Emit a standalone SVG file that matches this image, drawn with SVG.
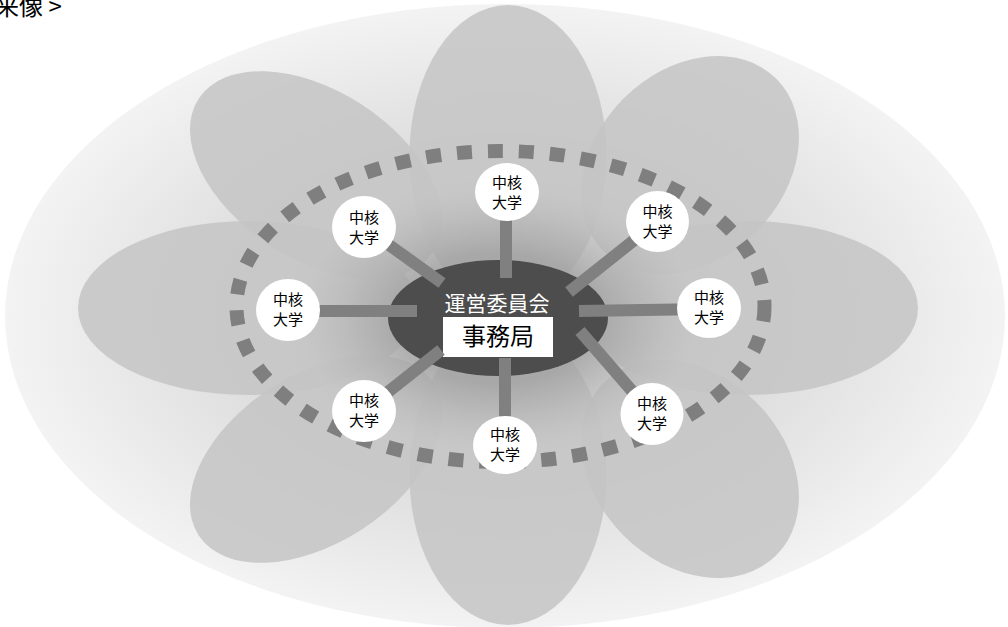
<svg xmlns="http://www.w3.org/2000/svg" width="1008" height="627" viewBox="0 0 1008 627">
<defs>
<radialGradient id="bg" cx="0.5" cy="0.5" r="0.5">
<stop offset="0" stop-color="#c4c4c4"/>
<stop offset="1" stop-color="#f3f3f3"/>
</radialGradient>
<radialGradient id="glow" cx="0.5" cy="0.5" r="0.5">
<stop offset="0.5" stop-color="#5a5a5a" stop-opacity="0.28"/>
<stop offset="1" stop-color="#888" stop-opacity="0"/>
</radialGradient>
<style>
.petal{fill:#c4c4c4;fill-opacity:0.85}
.bar{stroke:#808080;stroke-width:12;fill:none}
.node ellipse{fill:#fff}
.node text{font-family:"Noto Sans CJK JP","Noto Sans CJK SC",sans-serif;font-size:15px;fill:#000;text-anchor:middle}
.ring{fill:none;stroke:#7f7f7f;stroke-width:14;stroke-dasharray:15 16}
</style>
</defs>
<rect width="1008" height="627" fill="#fff"/>
<text x="-5" y="15" font-family="Noto Sans CJK JP, sans-serif" font-size="24" fill="#000">来像 &gt;</text>
<g id="background">
<ellipse cx="505" cy="316" rx="500" ry="312" fill="url(#bg)"/>
<ellipse class="petal" cx="508" cy="155" rx="98.5" ry="150"/>
<ellipse class="petal" cx="508" cy="475" rx="98.5" ry="150"/>
<ellipse class="petal" cx="248" cy="308" rx="170" ry="87"/>
<ellipse class="petal" cx="748" cy="308" rx="170" ry="87"/>
<ellipse class="petal" cx="0" cy="0" rx="140" ry="84" transform="translate(316 175) rotate(33)"/>
<ellipse class="petal" cx="0" cy="0" rx="140" ry="84" transform="translate(316 459) rotate(-33)"/>
<ellipse class="petal" cx="0" cy="0" rx="122" ry="94" transform="translate(690 165) rotate(-45)"/>
<ellipse class="petal" cx="0" cy="0" rx="122" ry="94" transform="translate(690 469) rotate(45)"/>
<ellipse cx="498" cy="318" rx="200" ry="130" fill="url(#glow)"/>
</g>
<g id="ring">
<ellipse class="ring" cx="500.5" cy="306.5" rx="264" ry="155.5"/>
</g>
<g id="hub">
<ellipse cx="498" cy="318" rx="110" ry="58" fill="#4d4d4d"/>
<text x="497" y="311" font-family="Noto Sans CJK JP, sans-serif" font-size="21" fill="#fff" text-anchor="middle">運営委員会</text>
<rect x="443" y="317" width="110" height="40" fill="#fff"/>
<text x="498" y="345" font-family="Noto Sans CJK JP, sans-serif" font-size="24" fill="#000" text-anchor="middle">事務局</text>
</g>
<g id="connectors">
<line class="bar" x1="506" y1="200" x2="506" y2="278"/>
<line class="bar" x1="364" y1="227" x2="442" y2="283"/>
<line class="bar" x1="657" y1="222" x2="569" y2="292"/>
<line class="bar" x1="290" y1="311" x2="417" y2="311"/>
<line class="bar" x1="579" y1="311" x2="707" y2="309"/>
<line class="bar" x1="364" y1="411" x2="441" y2="350"/>
<line class="bar" x1="505" y1="440" x2="505" y2="358"/>
<line class="bar" x1="652" y1="414" x2="580" y2="331"/>
</g>
<g id="node-top" class="node"><ellipse cx="507" cy="192" rx="32" ry="29"/><text x="507" y="188">中核</text><text x="507" y="208">大学</text></g>
<g id="node-top-left" class="node"><ellipse cx="364" cy="227" rx="32" ry="31"/><text x="364" y="223">中核</text><text x="364" y="243">大学</text></g>
<g id="node-top-right" class="node"><ellipse cx="657.5" cy="221.5" rx="31.5" ry="30.5"/><text x="657.5" y="217">中核</text><text x="657.5" y="237">大学</text></g>
<g id="node-left" class="node"><ellipse cx="288" cy="310" rx="32" ry="31"/><text x="288" y="305">中核</text><text x="288" y="325">大学</text></g>
<g id="node-right" class="node"><ellipse cx="709" cy="308" rx="32" ry="30"/><text x="709" y="303">中核</text><text x="709" y="323">大学</text></g>
<g id="node-bottom-left" class="node"><ellipse cx="364" cy="411" rx="32" ry="31"/><text x="364" y="406">中核</text><text x="364" y="426">大学</text></g>
<g id="node-bottom" class="node"><ellipse cx="505" cy="445" rx="32" ry="29"/><text x="505" y="440">中核</text><text x="505" y="460">大学</text></g>
<g id="node-bottom-right" class="node"><ellipse cx="652" cy="414" rx="31.5" ry="31"/><text x="652" y="409">中核</text><text x="652" y="429">大学</text></g>
</svg>
